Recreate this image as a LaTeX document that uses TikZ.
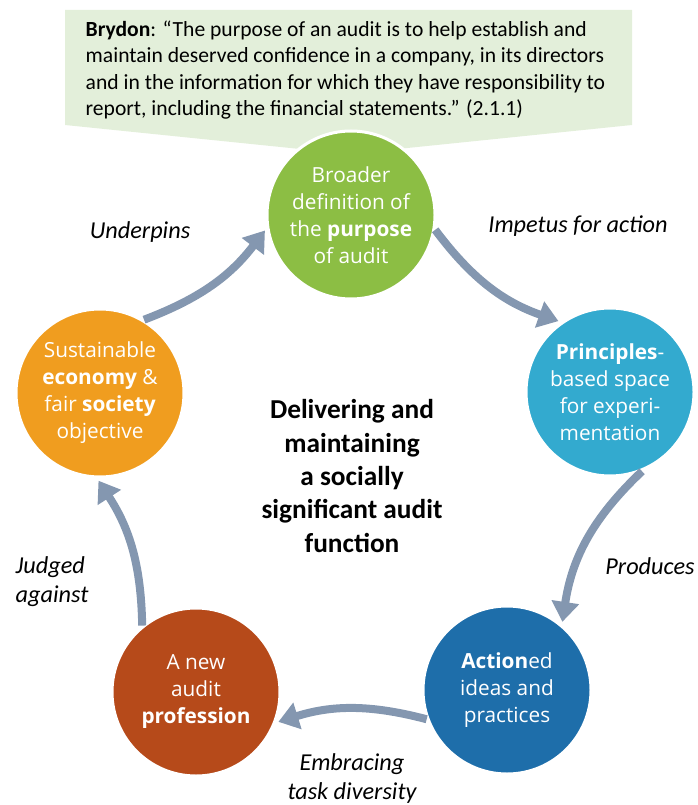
\documentclass[tikz,border=0pt]{standalone}
\usepackage{fontspec}
\setmainfont{Carlito}
\newfontfamily\discfont{Open Sans}
\usetikzlibrary{arrows.meta}

\definecolor{calloutfill}{RGB}{227,239,218}
\definecolor{purposegreen}{RGB}{140,190,68}
\definecolor{principlecyan}{RGB}{51,170,207}
\definecolor{actionblue}{RGB}{30,110,170}
\definecolor{professionred}{RGB}{182,74,26}
\definecolor{societyorange}{RGB}{240,157,31}
\definecolor{arrowgray}{RGB}{132,151,176}

\tikzset{
  disc/.style={circle, draw=white, line width=2.25pt, minimum size=126pt, inner sep=0pt,
    align=center, text=white, font=\discfont\fontsize{15.6}{20.25}\selectfont},
  flow/.style={draw=arrowgray, line width=6pt, -{Triangle[width=20pt,length=15pt]}, shorten >=2pt},
  flowlabel/.style={align=center, font=\itshape\fontsize{18.2}{21.75}\selectfont}
}

\begin{document}
\begin{tikzpicture}[x=0.75pt,y=0.75pt,yscale=-1,xscale=1]
\useasboundingbox (0,0) rectangle (697,805);

%Shape: Callout [quote]
\fill [calloutfill] (65,10) -- (632,10) -- (632,125) -- (349,154) -- (65,125) -- cycle ;

% Text Node
\draw (81,70) node [anchor=west, align=left, font=\fontsize{16.2}{19.9}\selectfont] (quote) {\textbf{Brydon}: “The purpose of an audit is to help establish and\\maintain deserved confidence in a company, in its directors\\and in the information for which they have responsibility to\\report, including the financial statements.” (2.1.1)};

%Shape: Circle [stages]
\draw (351,215) node [disc, fill=purposegreen] (purpose) {Broader\\definition of\\the \textbf{purpose}\\of audit};
\draw (610,392) node [disc, fill=principlecyan] (principles) {\textbf{Principles}-\\based space\\for experi-\\mentation};
\draw (507,690) node [disc, fill=actionblue] (actioned) {\textbf{Action}ed\\ideas and\\practices};
\draw (196,692) node [disc, fill=professionred] (profession) {A new\\audit\\\textbf{profession}};
\draw (100,393) node [disc, fill=societyorange] (society) {Sustainable\\\textbf{economy} \&\\fair \textbf{society}\\objective};

% Text Node
\draw (352,476) node [align=center, font=\bfseries\fontsize{20.5}{25}\selectfont] (theme) {Delivering and\\maintaining\\a socially\\significant audit\\function};

%Curve Lines [ring]
\draw [flow] (purpose.-10) to [bend left=17] (principles.125) ;
\draw [flow] (principles.-68) to [bend left=19] (actioned.50) ;
\draw [flow] (actioned.-160) to [bend left=16] (profession.-21) ;
\draw [flow] (profession.129) to [bend left=16] (society.-92) ;
\draw [flow] (society.59) to [bend left=16] (purpose.-171) ;

% Text Node
\draw (140,232) node [flowlabel] (underpins) {Underpins};
\draw (578,226) node [flowlabel] (impetus) {Impetus for action};
\draw (650,566) node [flowlabel] (produces) {Produces};
\draw (11,582) node [flowlabel, anchor=west, align=left] (judged) {Judged\\against};
\draw (352,779) node [flowlabel] (embracing) {Embracing\\task diversity};

\end{tikzpicture}
\end{document}
